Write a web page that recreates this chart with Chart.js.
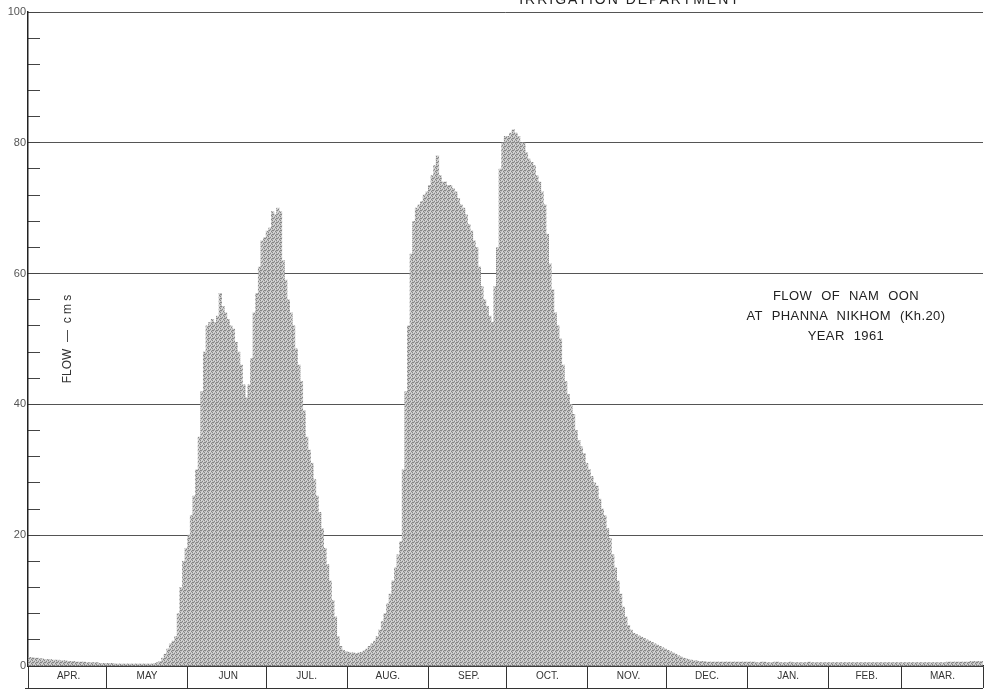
<!DOCTYPE html>
<html>
<head>
<meta charset="utf-8">
<script src="https://cdn.jsdelivr.net/npm/chart.js@4.4.0/dist/chart.umd.min.js"></script>
<style>
  html, body { margin: 0; padding: 0; background: #fff; }
  #wrap { position: relative; width: 984px; height: 696px; overflow: hidden; }
  #flowChart { display: block; }
  .note { position: absolute; font-family: "Liberation Sans", Arial, sans-serif; color: #222; text-align: center; white-space: nowrap; }
</style>
</head>
<body>
<div id="wrap">
  <canvas id="flowChart" width="984" height="696"></canvas>
  <div class="note" style="left:420px; top:-9px; width:420px; font-size:14px; letter-spacing:2px;">IRRIGATION DEPARTMENT</div>
  <div class="note" style="left:726px; top:286px; width:240px; font-size:13px; line-height:20px; word-spacing:5px; letter-spacing:0.4px;">FLOW OF NAM OON<br>AT PHANNA NIKHOM (Kh.20)<br>YEAR 1961</div>
</div>
<script>
// mois de l'année hydrologique, avril 1961 - mars 1962
const monthNames = ['APR.', 'MAY', 'JUN', 'JUL.', 'AUG.', 'SEP.', 'OCT.', 'NOV.', 'DEC.', 'JAN.', 'FEB.', 'MAR.'];
const monthDays = [30, 31, 30, 31, 31, 30, 31, 30, 31, 31, 28, 31];

// débits journaliers (cms)
const flowApr = [1.3, 1.3, 1.2, 1.2, 1.1, 1.1, 1.0, 1.0, 1.0, 0.9, 0.9, 0.9, 0.8, 0.8, 0.8, 0.7, 0.7, 0.7, 0.6, 0.6, 0.6, 0.6, 0.5, 0.5, 0.5, 0.5, 0.5, 0.4, 0.4, 0.4];
const flowMay = [0.4, 0.4, 0.4, 0.3, 0.3, 0.3, 0.3, 0.3, 0.3, 0.3, 0.3, 0.3, 0.3, 0.3, 0.3, 0.3, 0.3, 0.3, 0.4, 0.5, 0.7, 1.2, 1.8, 2.6, 3.4, 3.8, 4.5, 8, 12, 16, 18];
const flowJun = [20, 23, 26, 30, 35, 42, 48, 52, 52.5, 53, 52.5, 53.5, 57, 55, 54, 53, 52, 51.5, 49.5, 48, 46, 43, 41, 43, 47, 54, 57, 61, 65, 65.5];
const flowJul = [66.5, 67, 69.5, 69, 70, 69.5, 62, 59, 56, 54, 52, 48.5, 46, 43.5, 39, 35, 33, 31, 28.5, 26, 23.5, 21, 18, 15.5, 13, 10, 7.5, 4.5, 3, 2.4, 2.2];
const flowAug = [2.1, 2.0, 2.0, 1.9, 2.0, 2.1, 2.3, 2.6, 3.0, 3.4, 3.8, 4.5, 5.5, 6.8, 8, 9.5, 11, 13, 15, 17, 19, 30, 42, 52, 63, 68, 70, 70.5, 71, 72, 72.5];
const flowSep = [73.5, 75, 76.5, 78, 75, 74, 74, 73.5, 73.5, 73, 72.5, 71.5, 70.5, 70, 69, 67.5, 66.5, 65, 64, 61, 58, 56, 55, 53.5, 52.5, 58, 64, 76, 80, 81];
const flowOct = [81, 81.5, 82, 81.5, 81, 80, 80, 78.5, 77.5, 77, 76.5, 75, 74, 72.5, 70.5, 66, 61.5, 57.5, 54, 52, 50, 46, 43.5, 41.5, 40, 38.5, 36, 34.5, 33.5, 32.5, 31];
const flowNov = [30, 29, 28, 27.5, 25.5, 24, 23, 21, 19.5, 17, 15, 13, 11, 9, 7.5, 6.2, 5.5, 5, 4.8, 4.6, 4.4, 4.2, 4.0, 3.8, 3.6, 3.4, 3.2, 3.0, 2.8, 2.6];
const flowDec = [2.4, 2.2, 2.0, 1.8, 1.6, 1.4, 1.2, 1.1, 1.0, 0.9, 0.8, 0.8, 0.7, 0.7, 0.7, 0.6, 0.6, 0.6, 0.6, 0.6, 0.6, 0.6, 0.6, 0.6, 0.6, 0.6, 0.6, 0.6, 0.6, 0.6, 0.6];
const flowJan = [0.6, 0.6, 0.6, 0.5, 0.5, 0.6, 0.6, 0.5, 0.5, 0.5, 0.6, 0.6, 0.5, 0.5, 0.5, 0.5, 0.6, 0.5, 0.5, 0.5, 0.5, 0.5, 0.5, 0.6, 0.5, 0.5, 0.5, 0.5, 0.5, 0.5, 0.5];
const flowFeb = [0.5, 0.5, 0.5, 0.5, 0.5, 0.5, 0.5, 0.5, 0.5, 0.5, 0.5, 0.5, 0.5, 0.5, 0.5, 0.5, 0.5, 0.5, 0.5, 0.5, 0.5, 0.5, 0.5, 0.5, 0.5, 0.5, 0.5, 0.5];
const flowMar = [0.5, 0.5, 0.5, 0.5, 0.5, 0.5, 0.5, 0.5, 0.5, 0.5, 0.5, 0.5, 0.5, 0.5, 0.5, 0.5, 0.5, 0.6, 0.6, 0.6, 0.6, 0.6, 0.6, 0.6, 0.6, 0.6, 0.7, 0.7, 0.7, 0.7, 0.7];

const flow = [].concat(flowApr, flowMay, flowJun, flowJul, flowAug, flowSep,
                       flowOct, flowNov, flowDec, flowJan, flowFeb, flowMar);

// une étiquette par jour, repères de début et milieu de mois
const dayLabels = [];
const monthStarts = [];
const monthMids = {};
let day = 0;
monthDays.forEach((n, m) => {
  monthStarts.push(day);
  monthMids[day + Math.floor(n / 2)] = monthNames[m];
  for (let i = 1; i <= n; i++) dayLabels.push(monthNames[m] + ' ' + i);
  day += n;
});

// trame grise pointillée comme sur l'original
function stipple() {
  const c = document.createElement('canvas');
  c.width = 4; c.height = 4;
  const g = c.getContext('2d');
  g.fillStyle = 'rgba(180,180,180,0.8)';
  g.fillRect(0, 0, 4, 4);
  g.fillStyle = 'rgba(125,125,125,0.85)';
  [[0, 0], [2, 1], [1, 2], [3, 3], [0, 2]].forEach(p => g.fillRect(p[0], p[1], 1, 1));
  g.fillStyle = 'rgba(230,230,230,0.7)';
  [[1, 0], [3, 1], [2, 3]].forEach(p => g.fillRect(p[0], p[1], 1, 1));
  return g.createPattern(c, 'repeat');
}

// trait du bas des cases de mois
const monthBoxes = {
  id: 'monthBoxes',
  afterDraw(chart) {
    const { ctx, chartArea, scales } = chart;
    const y = Math.round(chartArea.bottom + 22) + 0.5;
    ctx.save();
    ctx.strokeStyle = '#333';
    ctx.lineWidth = 1;
    ctx.beginPath();
    ctx.moveTo(scales.x.left - 3, y);
    ctx.lineTo(scales.x.right, y);
    ctx.stroke();
    ctx.restore();
  }
};

const font = 'Liberation Sans, Arial, sans-serif';

new Chart(document.getElementById('flowChart'), {
  type: 'bar',
  data: {
    labels: dayLabels,
    datasets: [{
      data: flow,
      backgroundColor: stipple(),
      borderWidth: 0,
      barPercentage: 1,
      categoryPercentage: 1
    }]
  },
  options: {
    responsive: false,
    animation: false,
    layout: { padding: { top: 12, right: 1, left: 0, bottom: 0 } },
    plugins: { legend: { display: false }, tooltip: { enabled: false } },
    scales: {
      x: {
        grid: {
          offset: true,
          drawOnChartArea: false,
          tickLength: 22,
          color: ctx => (ctx.index === undefined || monthStarts.includes(ctx.index)) ? '#333' : 'rgba(0,0,0,0)'
        },
        border: { color: '#222', width: 1.5 },
        ticks: {
          autoSkip: false, maxRotation: 0, minRotation: 0, padding: -18,
          color: '#333', font: { size: 10, family: font },
          callback: (v, i) => monthMids[i] || ''
        },
        afterFit: s => { s.height = 30; s.paddingLeft = 0; s.paddingRight = 0; }
      },
      y: {
        min: 0, max: 100,
        ticks: {
          stepSize: 4, padding: 14, color: '#555', font: { size: 11, family: font },
          callback: v => (v % 20 === 0 ? v : '')
        },
        grid: {
          tickLength: -12,
          color: ctx => (ctx.tick && ctx.tick.value % 20 === 0) ? '#555' : 'rgba(0,0,0,0)',
          tickColor: '#444'
        },
        border: { color: '#222', width: 1.5 },
        title: {
          display: true, text: 'FLOW  —  c m s', color: '#333',
          padding: { top: 60, bottom: 0 }, font: { size: 12, family: font }
        },
        afterFit: s => { s.width = 28; s.paddingTop = 0; s.paddingBottom = 0; }
      }
    }
  },
  plugins: [monthBoxes]
});
</script>
</body>
</html>
